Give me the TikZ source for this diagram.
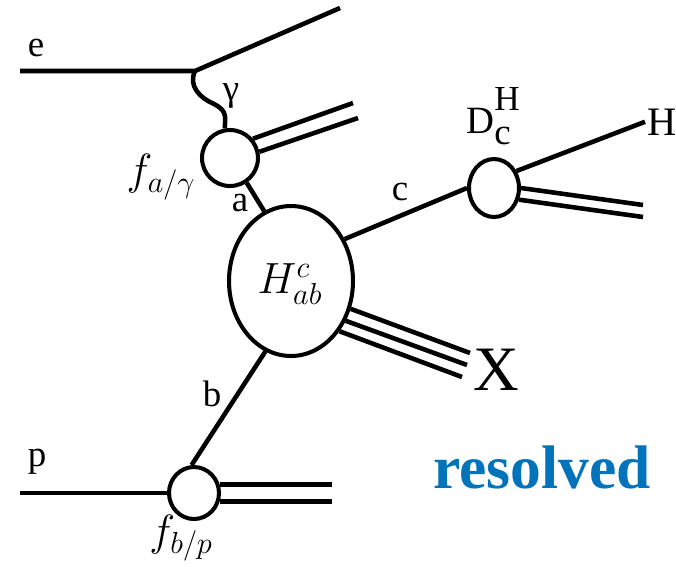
\documentclass[tikz,border=0pt]{standalone}
\usepackage{fontspec}
\setmainfont{Liberation Serif}
\usetikzlibrary{shapes.geometric,calc}
\definecolor{resblue}{RGB}{0,115,187}
\tikzset{
  blob/.style={draw, ellipse, line width=2.3pt, inner sep=0pt},
  leg/.style={line width=2.6pt},
  lbl/.style={font=\fontsize{21}{24}\selectfont, inner sep=1pt},
  mlbl/.style={font=\fontsize{25}{30}\selectfont, inner sep=1pt}
}

\begin{document}
\begin{tikzpicture}[x=0.02cm, y=-0.02cm]
  \useasboundingbox (0,0) rectangle (676,566);
  % blobs
  \node[blob, minimum width=2.48cm, minimum height=3cm] (hard) at (291,281) {};
  \node[mlbl] (hlab) at (290,284) {$H^c_{ab}$};
  \node[blob, minimum width=1.12cm, minimum height=1.12cm] (fa) at (230,158) {};
  \node[blob, minimum width=1.0cm, minimum height=1.04cm] (fp) at (194,493) {};
  \node[blob, minimum width=1.0cm, minimum height=1.16cm] (frag) at (494,188) {};
  % free ends
  \coordinate (ein) at (20,71);
  \coordinate (ev) at (195,71);
  \coordinate (eout) at (340,8);
  \coordinate (pin) at (20,493);
  \coordinate (aj1) at (353,103);
  \coordinate (aj2) at (358,118);
  \coordinate (dj1) at (643,205);
  \coordinate (dj2) at (643,217);
  \coordinate (pend) at (332,0);
  \coordinate (x1) at (470,353);
  \coordinate (x2) at (467,365);
  \coordinate (x3) at (462,377);
  % labels
  \node[lbl] (elbl) at (36,48) {e};
  \node[lbl] (glbl) at (231,96) {γ};
  \node[lbl] (albl) at (240,203) {a};
  \node[lbl] (blbl) at (212,394) {b};
  \node[lbl] (clbl) at (400,192) {c};
  \node[lbl] (plbl) at (37,462) {p};
  \node[mlbl] (falbl) at (161,177) {$f_{a/\gamma}$};
  \node[mlbl] (fplbl) at (181,538) {$f_{b/p}$};
  \node[inner sep=0pt, anchor=base west, font=\fontsize{22}{24}\selectfont] (dlbl) at (466,133)
    {D\rlap{\fontsize{20}{22}\selectfont\raisebox{13pt}{H}}{\fontsize{21}{22}\selectfont\raisebox{-6.5pt}{c}}};
  \node[inner sep=1pt, anchor=base west, font=\fontsize{23}{26}\selectfont] (hlbl) at (645,135) {H};
  \node[inner sep=0pt, anchor=base west, font=\fontsize{36}{40}\selectfont] (xlbl) at (473,390) {X};
  \node[inner sep=0pt, anchor=base west, text=resblue, font=\fontsize{35}{40}\selectfont\bfseries] (res) at (433,488) {resolved};
  % lines
  \draw[leg] (ein) -- (ev) -- (eout);
  \draw[leg] (ev) .. controls (188,86) and (200,98) .. (214,104)
    .. controls (228,111) and (225,118) .. (fa.100);
  \draw[leg] (fa.40) -- (aj1);
  \draw[leg] (fa.12) -- (aj2);
  \draw[leg] (fa.-56) -- (hard.111);
  \draw[leg] (hard.38) -- (frag.west);
  \draw[leg] (frag.37) -- (hlbl.west);
  \draw[leg] (frag.east) -- (dj1);
  \draw[leg] (frag.-25) -- (dj2);
  \draw[leg] (hard.-25) -- (x1);
  \draw[leg] (hard.-36) -- (x2);
  \draw[leg] (hard.-46) -- (x3);
  \draw[leg] (hard.250) -- (fp.95);
  \draw[leg] (pin) -- (fp.west);
  \draw[leg] (fp.18) -- (fp.18 -| pend);
  \draw[leg] (fp.-18) -- (fp.-18 -| pend);
\end{tikzpicture}
\end{document}
